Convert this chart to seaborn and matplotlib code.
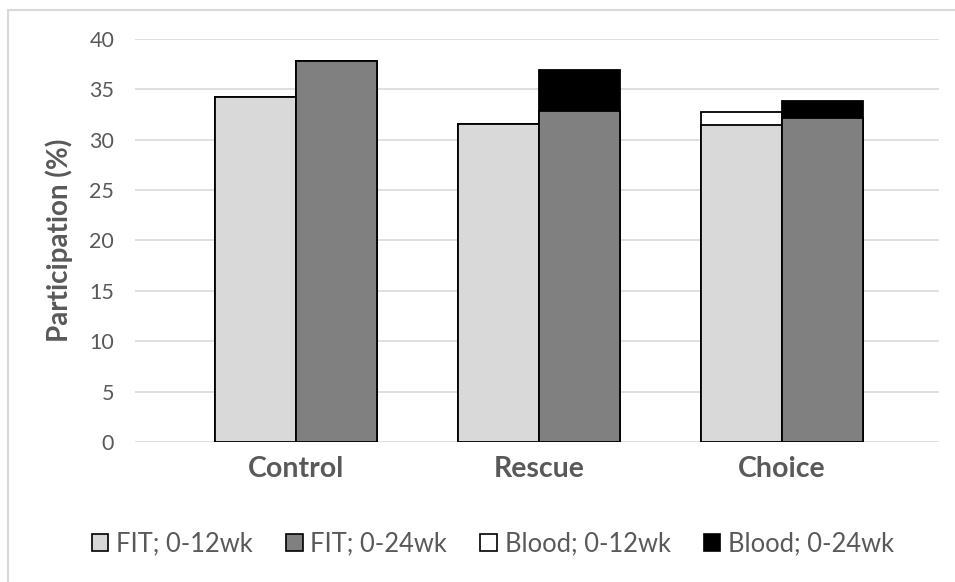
import pandas as pd
import matplotlib.pyplot as plt
import seaborn as sns
from matplotlib.patches import Patch
from matplotlib.lines import Line2D

# values (participation, %)
groups = ['Control', 'Rescue', 'Choice']
periods = ['0-12wk', '0-24wk']
fit_12 = [34.2, 31.6, 31.5]
fit_24 = [37.8, 32.9, 32.2]
blood_12 = [0.0, 0.0, 1.3]   # stacked on top of FIT
blood_24 = [0.0, 4.05, 1.6]
y_ticks = [0, 5, 10, 15, 20, 25, 30, 35, 40]

sns.set_theme(style='white')
plt.rcParams['font.family'] = ['Lato', 'DejaVu Sans']

txt = '#595959'
light, dark = '#D9D9D9', '#808080'

df_fit = pd.DataFrame({
    'group': groups * 2,
    'period': [periods[0]] * 3 + [periods[1]] * 3,
    'value': fit_12 + fit_24,
})
# total height = FIT + blood, drawn first so FIT covers the lower part
df_tot = df_fit.copy()
df_tot['value'] = [f + b for f, b in zip(fit_12, blood_12)] + [f + b for f, b in zip(fit_24, blood_24)]

fig = plt.figure(figsize=(9.55, 5.82), dpi=100)
ax = fig.add_axes([135 / 955, 1 - 442 / 582, 804 / 955, 403 / 582])

common = dict(x='group', y='value', hue='period', order=groups, hue_order=periods,
              edgecolor='black', linewidth=1.3, width=0.667, errorbar=None, legend=False, ax=ax)
sns.barplot(data=df_tot, palette={'0-12wk': 'white', '0-24wk': 'black'}, **common)
sns.barplot(data=df_fit, palette={'0-12wk': light, '0-24wk': dark}, **common)

ax.set_ylim(0, 40)
ax.set_yticks(y_ticks)
ax.set_xlim(-0.663, 2.646)
ax.yaxis.grid(True, color='#D9D9D9', linewidth=1.2)
ax.set_axisbelow(True)
for s in ax.spines.values():
    s.set_visible(False)
ax.tick_params(axis='both', length=0)
ax.tick_params(axis='y', labelsize=15.5, labelcolor=txt, pad=15)
ax.tick_params(axis='x', labelsize=20.5, labelcolor=txt, pad=10)
for lab in ax.get_xticklabels():
    lab.set_fontweight('bold')
ax.set_xlabel('')
ax.set_ylabel('Participation (%)', fontsize=20, fontweight='bold', color=txt)
ax.yaxis.set_label_coords(-0.077, 0.5)

handles = [
    Patch(facecolor=light, edgecolor='black', linewidth=1.2, label='FIT; 0-12wk'),
    Patch(facecolor=dark, edgecolor='black', linewidth=1.2, label='FIT; 0-24wk'),
    Patch(facecolor='white', edgecolor='black', linewidth=1.2, label='Blood; 0-12wk'),
    Patch(facecolor='black', edgecolor='black', linewidth=1.2, label='Blood; 0-24wk'),
]
leg = fig.legend(handles=handles, loc='center', bbox_to_anchor=(493 / 955, 1 - 544 / 582), ncol=4,
                 frameon=False, fontsize=18.4, handlelength=0.65, handleheight=0.65,
                 handletextpad=0.3, columnspacing=1.3, labelcolor=txt)

# light outer border (only top and left edges visible in the reference)
yb = 1 - 10 / 582
xb = 7.5 / 955
fig.add_artist(Line2D([xb, 1], [yb, yb], color='#D9D9D9', linewidth=1.5, transform=fig.transFigure))
fig.add_artist(Line2D([xb, xb], [0, yb], color='#D9D9D9', linewidth=1.5, transform=fig.transFigure))

fig.savefig('out.png', dpi=100)
